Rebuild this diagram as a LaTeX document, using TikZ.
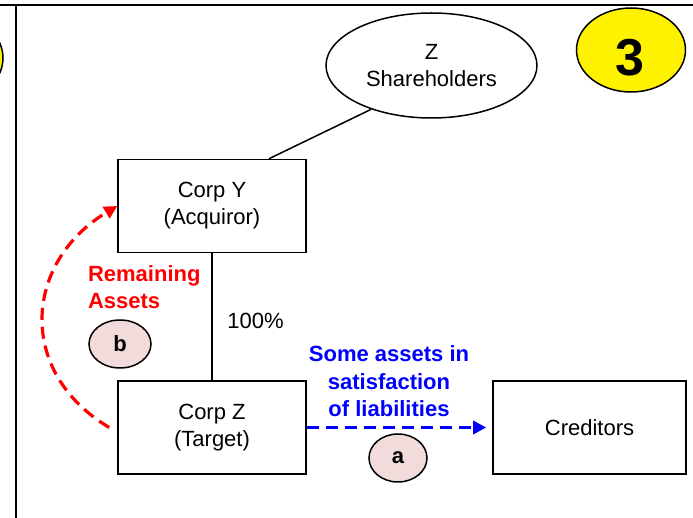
\documentclass[tikz,border=0pt]{standalone}
\usepackage{fontspec}
\setmainfont{Liberation Sans}
\usepackage{xcolor}
\usepackage{tikz}
\usetikzlibrary{shapes.geometric}
\usetikzlibrary{arrows.meta}
\definecolor{tagpink}{HTML}{F2DCDB}
\newcommand{\steptag}[4]{\node[tag, minimum width=#4pt] (tag#1) at (#2, #3) {#1};}

\begin{document}
\begin{tikzpicture}[x=0.5pt, y=-0.5pt, font=\fontsize{11}{13.5}\selectfont,
    corp/.style={draw, line width=0.75pt, minimum width=94pt, minimum height=46.5pt, align=center},
    tag/.style={ellipse, draw, line width=0.75pt, fill=tagpink, minimum height=24pt, inner sep=0pt, font=\fontsize{11}{13.5}\selectfont\bfseries},
    flow/.style={line width=1.6pt, dash pattern=on 6pt off 3.5pt, -{Triangle[length=6.5pt, width=6.5pt]}}]
    \useasboundingbox (0, 0) rectangle (693, 518);
    \draw[line width=1pt] (0, 5) -- (693, 5);
    \draw[line width=1pt] (15.5, 5) -- (15.5, 518);
    \node[ellipse, draw, fill=yellow, line width=0.75pt, minimum width=54pt, minimum height=44pt] (prevstep) at (-51, 58) {};
    \node[ellipse, draw, fill=yellow, line width=0.75pt, minimum width=54.5pt, minimum height=42pt, inner sep=0pt] (stepno) at (631, 50) {};
    \node[font=\fontsize{26}{30}\selectfont\bfseries, inner sep=0pt] (stepnum) at (630, 58) {3};
    \node[ellipse, draw, line width=0.75pt, minimum width=105.5pt, minimum height=52.5pt, inner sep=0pt, align=center] (zsh) at (431.5, 65.5) {Z\\Shareholders};
    \node[corp] (corpy) at (212, 206) {Corp Y\\(Acquiror)};
    \node[corp] (corpz) at (212, 427.5) {Corp Z\\(Target)};
    \node[corp, minimum width=96.5pt] (creditors) at (589.5, 427.5) {Creditors};
    \draw[line width=0.75pt] ([xshift=28.5pt]corpy.north) -- (zsh.216);
    \draw[line width=0.75pt] (corpy.south) -- node[right, xshift=4pt, yshift=-2pt] (pct) {100\%} (corpz.north);
    \draw[flow, blue] (corpz.east) -- ([xshift=-3pt]creditors.west);
    \draw[flow, red] ([xshift=-4pt]corpz.west) .. controls (16, 372) and (24, 262) .. (corpy.west);
    \node[blue, font=\fontsize{11}{13.75}\selectfont\bfseries, align=center] (liab) at (389, 381.5) {Some assets in\\satisfaction\\of liabilities};
    \node[red, font=\fontsize{11}{13.75}\selectfont\bfseries, align=left, anchor=west] (remain) at (81, 287) {Remaining\\Assets};
    \steptag{b}{120}{344}{31}
    \steptag{a}{398}{458}{29}
\end{tikzpicture}
\end{document}
